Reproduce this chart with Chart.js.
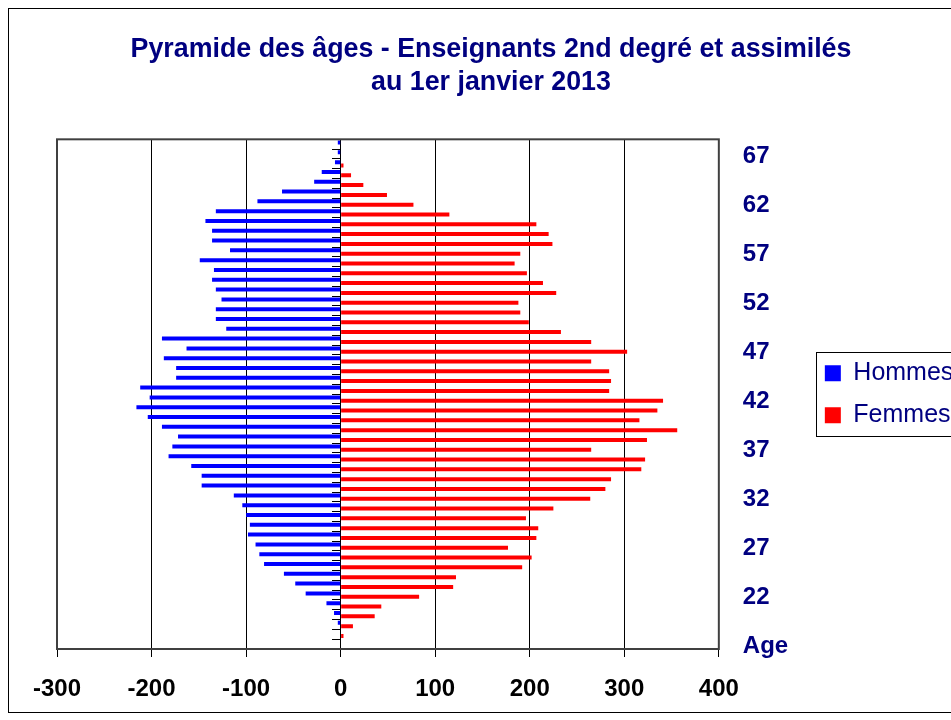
<!DOCTYPE html>
<html>
<head>
<meta charset="utf-8">
<title>Pyramide des âges</title>
<script src="https://cdn.jsdelivr.net/npm/chart.js@4.4.1/dist/chart.umd.min.js"></script>
<style>
    html, body { margin: 0; padding: 0; background: #fff; overflow: hidden; }
    #frame { position: absolute; left: 8px; top: 8px; width: 964px; height: 703px; border: 1px solid #000; }
</style>
</head>
<body>
<div id="frame"><canvas id="pyramid" width="964" height="703"></canvas></div>
<script>
// Ages, bottom (17) to top (68)
const ages = [17, 18, 19, 20, 21, 22, 23, 24, 25, 26, 27, 28, 29, 30, 31, 32, 33, 34,
    35, 36, 37, 38, 39, 40, 41, 42, 43, 44, 45, 46, 47, 48, 49, 50, 51, 52,
    53, 54, 55, 56, 57, 58, 59, 60, 61, 62, 63, 64, 65, 66, 67, 68];

const hommes = [0, 0, 3, 7, 15, 37, 48, 60, 81, 86, 90, 98, 96, 100, 104, 113, 147, 147,
    158, 182, 178, 172, 189, 204, 216, 202, 212, 174, 174, 187, 163, 189, 121, 132, 132, 126,
    132, 136, 134, 149, 117, 136, 136, 143, 132, 88, 62, 28, 20, 6, 3, 3];

const femmes = [0, 3, 13, 36, 43, 83, 119, 122, 192, 202, 177, 207, 209, 196, 225, 264, 280, 286,
    318, 322, 265, 324, 356, 316, 335, 341, 284, 286, 284, 265, 303, 265, 233, 199, 190, 188,
    228, 214, 197, 184, 190, 224, 220, 207, 115, 77, 49, 24, 11, 3, 0, 0];

// one label every 5 ages, starting from the bottom row
const ageTickLabels = ['Age', '22', '27', '32', '37', '42', '47', '52', '57', '62', '67'];

const navy = '#000080';

// Plot area border, legend box, and title centred on the whole canvas
const framesPlugin = {
    id: 'frames',
    afterLayout(chart) {
        if (chart.titleBlock) {
            chart.titleBlock.left = 0;
            chart.titleBlock.right = chart.width;
        }
    },
    afterDraw(chart) {
        const { ctx, chartArea: a, legend } = chart;
        ctx.save();
        ctx.strokeStyle = '#404040';
        ctx.lineWidth = 2;
        ctx.strokeRect(a.left, a.top, a.right - a.left, a.bottom - a.top);

        const boxes = legend.legendHitBoxes;
        if (boxes && boxes.length) {
            const first = boxes[0];
            const last = boxes[boxes.length - 1];
            ctx.lineWidth = 1;
            ctx.strokeStyle = '#000';
            ctx.strokeRect(Math.round(first.left - 9) + 0.5, Math.round(first.top - 9) + 0.5,
                220, Math.round(last.top + last.height - first.top + 17));
        }
        ctx.restore();
    }
};

Chart.defaults.font.family = "'Liberation Sans', Arial, sans-serif";

new Chart(document.getElementById('pyramid'), {
    type: 'bar',
    data: {
        labels: ages,
        datasets: [
            {
                label: 'Hommes',
                data: hommes.map(v => -v),
                backgroundColor: '#0000ff',
                borderWidth: 0,
                categoryPercentage: 0.68,
                barPercentage: 1.2
            },
            {
                label: 'Femmes',
                data: femmes,
                backgroundColor: '#ff0000',
                borderWidth: 0,
                categoryPercentage: 0.68,
                barPercentage: 1.2
            }
        ]
    },
    options: {
        indexAxis: 'y',
        responsive: false,
        animation: false,
        layout: { padding: { left: 48, right: 15, top: 0, bottom: 8 } },
        scales: {
            x: {
                type: 'linear',
                min: -300,
                max: 400,
                ticks: {
                    stepSize: 100,
                    color: '#000',
                    font: { size: 24, weight: 'bold' },
                    padding: 18
                },
                grid: { color: '#000', lineWidth: 1, tickLength: 8 },
                border: { display: false },
                afterFit(scale) { scale.height = 55; }
            },
            y: {
                type: 'category',
                position: 'right',
                reverse: true,
                offset: true,
                grid: { display: false, drawTicks: false, offset: true },
                border: { display: false },
                ticks: {
                    autoSkip: false,
                    color: navy,
                    font: { size: 24, weight: 'bold' },
                    padding: 24,
                    labelOffset: 2,
                    callback: (v, i) => (i % 5 === 0 ? ageTickLabels[i / 5] : '')
                },
                afterFit(scale) { scale.width = 89; }
            },
            y2: {
                type: 'category',
                position: { x: 0 },
                reverse: true,
                offset: true,
                z: 1,
                ticks: { display: false },
                grid: { offset: true, drawOnChartArea: false, tickLength: 8, color: '#000' },
                border: { display: true, color: '#000', width: 1 }
            }
        },
        plugins: {
            title: {
                display: true,
                text: ['Pyramide des âges - Enseignants 2nd degré et assimilés', 'au 1er janvier 2013'],
                color: navy,
                font: { size: 26.8, weight: 'bold', lineHeight: 1.2 },
                padding: { top: 25, bottom: 41 }
            },
            legend: {
                position: 'right',
                fullSize: false,
                labels: {
                    boxWidth: 16,
                    boxHeight: 16,
                    color: navy,
                    font: { size: 25 },
                    padding: 17
                }
            },
            tooltip: { enabled: false }
        }
    },
    plugins: [framesPlugin]
});
</script>
</body>
</html>
